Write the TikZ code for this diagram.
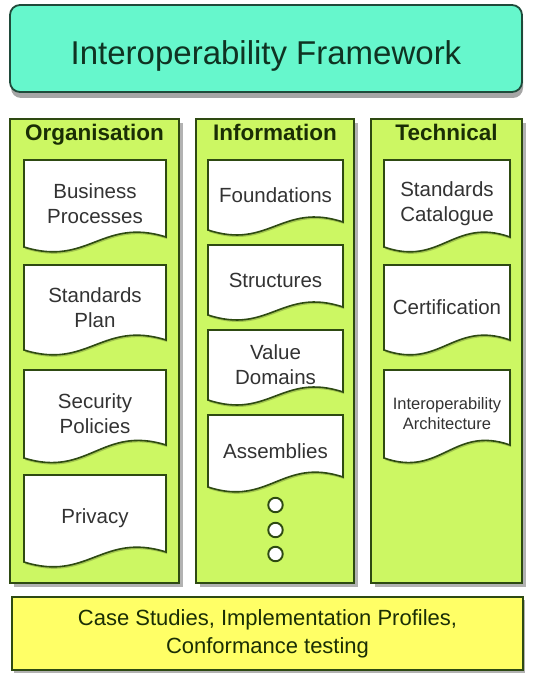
\documentclass[tikz,border=0pt]{standalone}
\usepackage{fontspec}
\setmainfont{Liberation Sans}
\usetikzlibrary{shadows}
\definecolor{topfill}{HTML}{66F7CC}
\definecolor{topline}{HTML}{1F4A3A}
\definecolor{colfill}{HTML}{CCF763}
\definecolor{colline}{HTML}{2E4A12}
\definecolor{botfill}{HTML}{FFFF66}
\definecolor{doctxt}{HTML}{333333}
\definecolor{headtxt}{HTML}{1A2E05}
\definecolor{titletxt}{HTML}{0F3322}
\newcommand\wdoc[7]{%
  \draw[docline] (#2,#4) -- (#3,#4) -- (#3,#6)
     .. controls ({#2+0.55*(#3-#2)},{#6-20}) and ({#2+0.45*(#3-#2)},{#5+20}) .. (#2,#5) -- cycle;
  \node[doctext] (#1) at ({(#2+#3)/2},{(#4+#5)/2}) {#7};
}
\begin{document}
\begin{tikzpicture}[x=1pt,y=-1pt,
  topbox/.style={draw=topline, line width=1.8pt, fill=topfill, rounded corners=10pt,
     drop shadow={shadow xshift=1pt, shadow yshift=-6pt, opacity=0.35, fill=black}},
  colbox/.style={draw=colline, line width=1.8pt, fill=colfill,
     drop shadow={shadow xshift=4pt, shadow yshift=-4pt, opacity=0.3, fill=black}},
  botbox/.style={draw=colline, line width=1.8pt, fill=botfill,
     drop shadow={shadow xshift=2pt, shadow yshift=-3pt, opacity=0.3, fill=black}},
  docline/.style={draw=colline, line width=1.6pt, fill=white,
     drop shadow={shadow xshift=1pt, shadow yshift=-2pt, opacity=0.2, fill=black}},
  doctext/.style={text=doctxt, align=center, font=\fontsize{20.5}{25}\selectfont},
  smalltext/.style={text=doctxt, align=center, font=\fontsize{16.5}{20}\selectfont},
  headtext/.style={text=headtxt, anchor=base, font=\fontsize{22.5}{26}\selectfont\bfseries},
  dot/.style={circle, draw=colline, line width=1.9pt, fill=white, minimum size=14.5pt, inner sep=0pt}
]
\useasboundingbox (0,0) rectangle (534,674);
\fill[white] (0,0) rectangle (534,674);

% top box
\node[topbox, minimum width=512pt, minimum height=87pt, inner sep=0pt] (fw) at (266,48.5) {};
\node[text=titletxt, anchor=base, font=\fontsize{33}{38}\selectfont] (fwt) at (266,65) {Interoperability Framework};

% columns
\node[colbox, minimum width=169pt, minimum height=464pt, inner sep=0pt] (org) at (94.5,351) {};
\node[colbox, minimum width=158pt, minimum height=464pt, inner sep=0pt] (inf) at (275,351) {};
\node[colbox, minimum width=151pt, minimum height=464pt, inner sep=0pt] (tec) at (446.5,351) {};

\node[headtext] (orgh) at (94.5,140) {Organisation};
\node[headtext] (infh) at (275,140) {Information};
\node[headtext] (tech) at (446.5,140) {Technical};

% organisation documents
\wdoc{bp}{24}{166}{160}{247}{237}{Business\\Processes}
\wdoc{sp}{24}{166}{265}{350}{340}{Standards\\Plan}
\wdoc{secp}{24}{166}{370}{458}{445}{Security\\Policies}
\wdoc{priv}{24}{166}{475}{562}{552}{Privacy}

% information documents
\wdoc{fnd}{208}{343}{160}{230}{222}{Foundations}
\wdoc{str}{208}{343}{245}{315}{307}{Structures}
\wdoc{vd}{208}{343}{330}{400}{392}{Value\\Domains}
\wdoc{asm}{208}{343}{415}{487}{477}{Assemblies}

\node[dot] (d1) at (275.5,505) {};
\node[dot] (d2) at (275.5,530) {};
\node[dot] (d3) at (275.5,554) {};

% technical documents
\wdoc{sc}{384}{510}{160}{247}{237}{Standards\\Catalogue}
\wdoc{cert}{384}{510}{265}{350}{340}{Certification}
\draw[docline] (384,370) -- (510,370) -- (510,445)
   .. controls ({384+0.55*126},425) and ({384+0.45*126},478) .. (384,458) -- cycle;
\node[smalltext] (ia) at (447,414) {Interoperability\\Architecture};

% bottom box
\node[botbox, minimum width=511pt, minimum height=73pt, inner sep=0pt] (bot) at (267.5,633.5) {};
\node[text=headtxt, align=center, font=\fontsize{22}{28}\selectfont] (bott) at (267.5,634) {Case Studies, Implementation Profiles,\\Conformance testing};
\end{tikzpicture}
\end{document}
